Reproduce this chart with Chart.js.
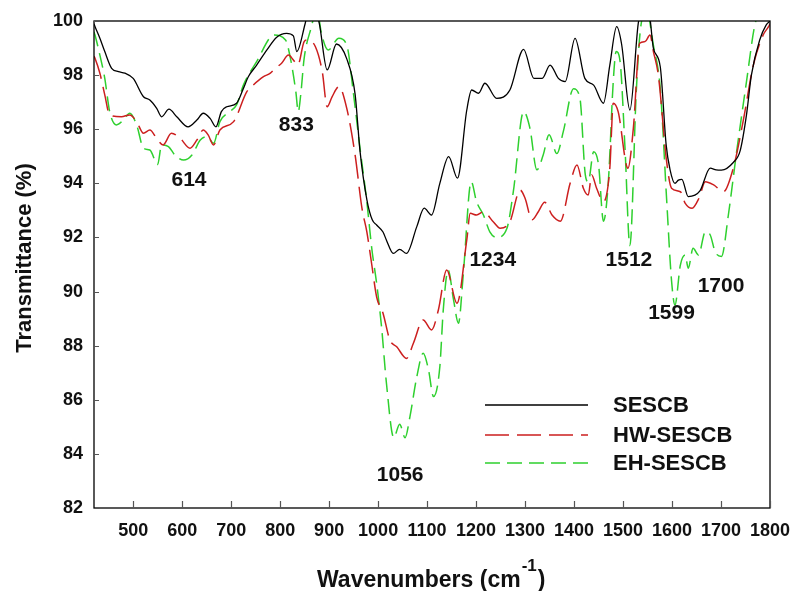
<!DOCTYPE html>
<html>
<head>
<meta charset="utf-8">
<script src="https://cdn.jsdelivr.net/npm/chart.js@4"></script>
<style>
  html, body { margin: 0; padding: 0; background: #fff; }
  #wrap { width: 792px; height: 591px; }
</style>
</head>
<body>
<div id="wrap"><canvas id="c" width="792" height="591"></canvas></div>
<script>
// ---- Data ----
const seriesNames = ['SESCB', 'HW-SESCB', 'EH-SESCB'];
const xTickValues = [500, 600, 700, 800, 900, 1000, 1100, 1200, 1300, 1400, 1500, 1600, 1700, 1800];
const yTickValues = [82, 84, 86, 88, 90, 92, 94, 96, 98, 100];

const sescbX = [420, 422, 432, 442, 456, 470, 483, 500, 521, 534, 548, 558, 573, 589, 612, 630, 643, 657, 669, 680, 691, 711, 725, 735, 752, 773, 793, 813, 827, 834, 851, 858, 872, 880, 896, 915, 936, 953, 963, 977, 988, 997, 1010, 1017, 1031, 1044, 1058, 1079, 1094, 1109, 1126, 1144, 1162, 1181, 1191, 1205, 1218, 1242, 1269, 1297, 1318, 1335, 1351, 1368, 1382, 1402, 1422, 1440, 1460, 1473, 1487, 1497, 1514, 1531, 1538, 1552, 1562, 1576, 1588, 1596, 1606, 1613, 1620, 1633, 1657, 1678, 1690, 1701, 1725, 1739, 1752, 1762, 1779, 1792, 1800];
const sescbY = [99.9, 99.8, 99.36, 98.87, 98.25, 98.13, 98.07, 97.88, 97.2, 97.08, 96.77, 96.46, 96.74, 96.46, 96.09, 96.34, 96.59, 96.4, 96.09, 96.65, 96.83, 96.96, 97.51, 97.94, 98.37, 98.93, 99.4, 99.54, 99.45, 98.87, 99.9, 100.4, 100.4, 99.9, 98.19, 99.15, 98.6, 97.3, 95.2, 93.4, 92.65, 92.46, 92.2, 91.9, 91.41, 91.56, 91.41, 92.4, 93.08, 92.83, 94.0, 94.99, 94.19, 96.71, 97.45, 97.33, 97.7, 97.14, 97.45, 98.95, 97.88, 97.88, 98.37, 97.88, 97.76, 99.36, 97.88, 97.63, 96.96, 98.37, 99.79, 99.15, 96.71, 99.9, 100.4, 100.4, 98.99, 98.31, 95.42, 94.5, 94.0, 94.12, 94.15, 93.51, 93.72, 94.56, 94.5, 94.49, 94.77, 95.2, 96.53, 98.0, 99.3, 99.85, 100.0];

const hwX = [420, 422, 432, 442, 452, 476, 493, 507, 521, 534, 548, 561, 578, 596, 616, 630, 643, 653, 664, 677, 705, 732, 745, 766, 780, 790, 803, 817, 827, 836, 849, 855, 872, 886, 896, 906, 920, 936, 953, 967, 977, 987, 997, 1010, 1024, 1038, 1058, 1072, 1092, 1109, 1123, 1140, 1161, 1181, 1188, 1201, 1215, 1235, 1249, 1269, 1290, 1300, 1314, 1327, 1340, 1355, 1372, 1392, 1406, 1419, 1429, 1436, 1446, 1460, 1473, 1480, 1490, 1510, 1521, 1534, 1545, 1555, 1562, 1572, 1589, 1599, 1617, 1627, 1641, 1655, 1668, 1685, 1705, 1725, 1745, 1766, 1786, 1797, 1800];
const hwY = [98.7, 98.62, 98.07, 97.27, 96.53, 96.46, 96.53, 96.28, 95.85, 95.97, 95.66, 95.42, 95.85, 95.66, 95.3, 95.6, 95.97, 95.79, 95.42, 95.97, 96.28, 97.39, 97.63, 97.94, 98.07, 98.25, 98.44, 98.74, 98.56, 98.37, 99.24, 99.3, 99.05, 98.13, 96.83, 97.2, 97.57, 96.77, 95.05, 93.08, 92.21, 91.0, 89.8, 89.2, 88.21, 87.96, 87.53, 88.09, 88.95, 88.58, 89.32, 90.8, 89.57, 91.91, 92.89, 92.83, 92.95, 92.58, 92.34, 92.58, 93.75, 93.45, 92.65, 92.95, 93.3, 92.83, 92.6, 94.0, 94.68, 93.82, 93.57, 94.31, 93.82, 93.32, 94.56, 96.96, 96.65, 94.56, 96.03, 99.18, 99.24, 99.48, 98.87, 98.0, 94.8, 93.82, 93.69, 93.26, 93.08, 93.45, 94.06, 93.94, 93.69, 94.56, 96.28, 98.37, 99.48, 99.79, 99.9];

const ehX = [420, 422, 432, 442, 452, 466, 480, 493, 507, 521, 534, 550, 558, 572, 585, 603, 620, 637, 651, 664, 677, 697, 711, 725, 752, 788, 811, 821, 832, 837, 842, 849, 863, 875, 885, 898, 920, 936, 950, 963, 977, 987, 997, 1007, 1017, 1032, 1044, 1055, 1065, 1079, 1092, 1103, 1113, 1126, 1133, 1143, 1154, 1164, 1174, 1190, 1201, 1215, 1228, 1242, 1263, 1276, 1297, 1310, 1324, 1337, 1349, 1365, 1378, 1399, 1412, 1423, 1429, 1440, 1450, 1460, 1470, 1480, 1486, 1494, 1504, 1514, 1527, 1535, 1548, 1562, 1576, 1589, 1599, 1606, 1617, 1627, 1633, 1643, 1654, 1668, 1678, 1688, 1701, 1715, 1731, 1752, 1769, 1780];
const ehY = [99.6, 99.48, 98.74, 97.88, 96.65, 96.16, 96.34, 96.59, 96.16, 95.3, 95.23, 94.7, 95.42, 95.36, 95.05, 94.86, 95.05, 95.6, 95.73, 95.48, 96.28, 96.65, 96.9, 97.63, 98.5, 99.48, 99.3, 98.62, 97.39, 96.65, 97.27, 98.62, 99.73, 100.4, 99.48, 98.93, 99.36, 99.11, 97.27, 95.3, 93.32, 91.6, 90.3, 88.7, 86.61, 84.6, 85.1, 84.6, 85.38, 86.85, 87.72, 87.1, 86.12, 87.22, 89.32, 90.8, 89.69, 88.83, 90.68, 94.06, 93.32, 92.83, 92.21, 92.0, 92.34, 93.69, 96.65, 96.03, 94.5, 95.05, 95.8, 95.1, 95.91, 97.5, 97.14, 94.31, 94.06, 95.17, 94.68, 92.6, 94.06, 97.76, 98.87, 98.5, 95.3, 91.7, 97.39, 99.6, 100.4, 99.1, 97.5, 93.4, 90.4, 89.5, 90.98, 91.35, 90.86, 91.6, 91.35, 92.21, 92.09, 91.47, 91.3, 92.83, 95.05, 97.76, 99.85, 100.4];

const peakLabels = ['614', '833', '1056', '1234', '1512', '1599', '1700'];
const peakLabelX = [614, 833, 1045, 1234, 1512, 1599, 1700];
const peakLabelY = [94.12, 96.16, 83.22, 91.17, 91.17, 89.2, 90.2];

// ---- Build chart ----
const FONT = "'Liberation Sans', Arial, sans-serif";
const toPts = (xs, ys) => xs.map((x, i) => ({ x: x, y: ys[i] }));

const colors = ['#000000', '#cc1f1f', '#2ed02e'];
const dashes = [[], [24, 8], [15, 7]];
const widths = [1.3, 1.5, 1.5];

const datasets = [
  { label: seriesNames[0], data: toPts(sescbX, sescbY) },
  { label: seriesNames[1], data: toPts(hwX, hwY) },
  { label: seriesNames[2], data: toPts(ehX, ehY) }
].map((d, i) => Object.assign(d, {
  borderColor: colors[i],
  borderDash: dashes[i],
  borderWidth: widths[i],
  pointRadius: 0,
  fill: false,
  cubicInterpolationMode: 'monotone'
}));

const decor = {
  id: 'decor',
  afterDraw(chart) {
    const ctx = chart.ctx;
    const a = chart.chartArea;
    const xs = chart.scales.x, ys = chart.scales.y;
    ctx.save();
    // frame
    ctx.strokeStyle = '#000';
    ctx.lineWidth = 1.3;
    ctx.setLineDash([]);
    ctx.strokeRect(a.left, a.top, a.right - a.left, a.bottom - a.top);
    // inward tick marks
    ctx.lineWidth = 1.2;
    ctx.strokeStyle = '#555';
    ctx.beginPath();
    xTickValues.forEach(v => {
      const px = Math.round(xs.getPixelForValue(v)) + 0.5;
      ctx.moveTo(px, a.bottom); ctx.lineTo(px, a.bottom - 7);
    });
    yTickValues.forEach(v => {
      const py = Math.round(ys.getPixelForValue(v)) + 0.5;
      ctx.moveTo(a.left, py); ctx.lineTo(a.left + 5, py);
    });
    ctx.stroke();

    // peak annotations
    ctx.fillStyle = '#111';
    ctx.font = 'bold 21px ' + FONT;
    ctx.textAlign = 'center';
    ctx.textBaseline = 'middle';
    peakLabels.forEach((t, i) => {
      ctx.fillText(t, xs.getPixelForValue(peakLabelX[i]), ys.getPixelForValue(peakLabelY[i]));
    });

    // legend
    const legX0 = 485, legX1 = 588, legTextX = 613;
    const legY = [405, 435, 463];
    chart.data.datasets.forEach((ds, i) => {
      ctx.strokeStyle = ds.borderColor;
      ctx.lineWidth = ds.borderWidth;
      ctx.setLineDash(ds.borderDash);
      ctx.beginPath();
      ctx.moveTo(legX0, legY[i]); ctx.lineTo(legX1, legY[i]);
      ctx.stroke();
      ctx.setLineDash([]);
      ctx.fillStyle = '#111';
      ctx.font = 'bold 22px ' + FONT;
      ctx.textAlign = 'left';
      ctx.textBaseline = 'middle';
      ctx.fillText(ds.label, legTextX, legY[i] + 1);
    });

    // axis titles
    ctx.fillStyle = '#111';
    ctx.textBaseline = 'alphabetic';
    ctx.textAlign = 'left';
    const main = 'Wavenumbers (cm';
    const sup = '-1';
    const close = ')';
    ctx.font = 'bold 23px ' + FONT;
    const wMain = ctx.measureText(main).width;
    ctx.font = 'bold 17px ' + FONT;
    const wSup = ctx.measureText(sup).width;
    const tx = 317;
    const ty = 587;
    ctx.font = 'bold 23px ' + FONT;
    ctx.fillText(main, tx, ty);
    ctx.font = 'bold 17px ' + FONT;
    ctx.fillText(sup, tx + wMain + 1, ty - 16);
    ctx.font = 'bold 23px ' + FONT;
    ctx.fillText(close, tx + wMain + wSup + 2, ty);

    ctx.font = 'bold 22px ' + FONT;
    ctx.translate(25, 258);
    ctx.rotate(-Math.PI / 2);
    ctx.textAlign = 'center';
    ctx.textBaseline = 'middle';
    ctx.fillText('Transmittance (%)', 0, 0);
    ctx.restore();
  }
};

new Chart(document.getElementById('c'), {
  type: 'line',
  data: { datasets: datasets },
  options: {
    responsive: false,
    devicePixelRatio: 1,
    animation: false,
    layout: { padding: { left: 0, right: 22, top: 21, bottom: 0 } },
    plugins: { legend: { display: false }, tooltip: { enabled: false } },
    scales: {
      x: {
        type: 'linear',
        min: 420,
        max: 1800,
        grid: { display: false, drawTicks: false },
        border: { display: false },
        afterBuildTicks: s => { s.ticks = xTickValues.map(v => ({ value: v })); },
        afterFit: s => { s.height = 83; s.paddingLeft = 0; s.paddingRight = 0; },
        ticks: {
          color: '#111',
          padding: 12,
          maxRotation: 0,
          autoSkip: false,
          callback: v => String(v),
          font: { family: FONT, size: 18, weight: 'bold' }
        }
      },
      y: {
        type: 'linear',
        min: 82,
        max: 100,
        grid: { display: false, drawTicks: false },
        border: { display: false },
        afterBuildTicks: s => { s.ticks = yTickValues.map(v => ({ value: v })); },
        afterFit: s => { s.width = 94; s.paddingTop = 0; s.paddingBottom = 0; },
        ticks: {
          color: '#111',
          padding: 11,
          callback: v => String(v),
          font: { family: FONT, size: 18, weight: 'bold' }
        }
      }
    }
  },
  plugins: [decor]
});
</script>
</body>
</html>
